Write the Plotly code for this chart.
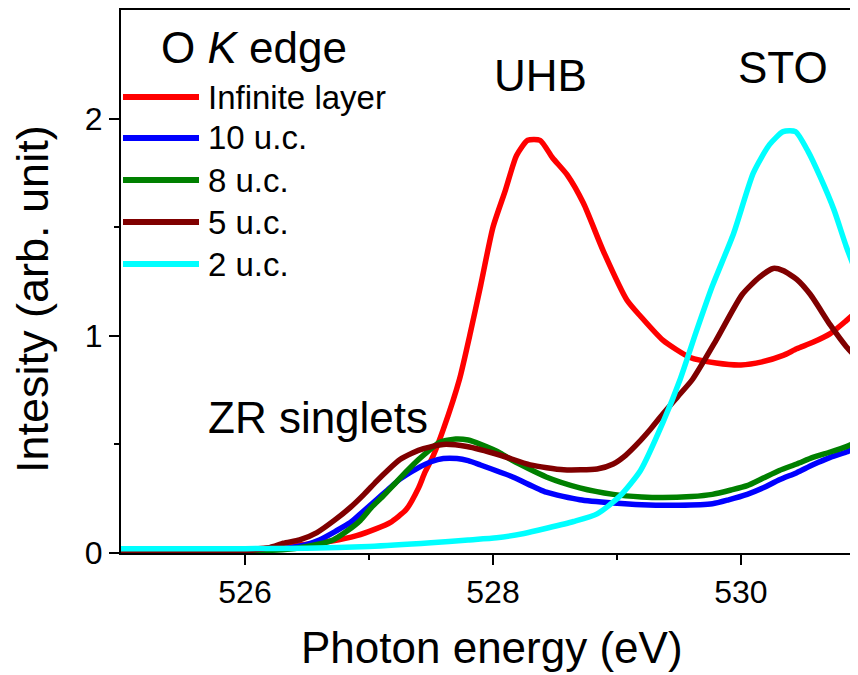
import plotly.graph_objects as go

# ---------------- data ----------------
series_names = ["Infinite layer", "10 u.c.", "8 u.c.", "5 u.c.", "2 u.c."]
series_colors = ["#ff0000", "#0000ff", "#008000", "#800000", "#00ffff"]

e_inf = [525.0, 525.5, 526.0, 526.3, 526.5, 526.7, 526.9, 527.05, 527.17, 527.3, 527.4, 527.45,
         527.52, 527.6, 527.73, 527.82, 527.9, 528.0, 528.1, 528.19, 528.28, 528.38, 528.48,
         528.6, 528.73, 528.89, 529.08, 529.19, 529.37, 529.59, 529.8, 530.0, 530.17, 530.34,
         530.45, 530.58, 530.72, 530.85, 530.95]
i_inf = [0.01, 0.01, 0.015, 0.03, 0.04, 0.055, 0.08, 0.11, 0.14, 0.2, 0.3, 0.37,
         0.45, 0.57, 0.8, 1.02, 1.23, 1.50, 1.67, 1.83, 1.90, 1.90, 1.82,
         1.74, 1.61, 1.39, 1.165, 1.09, 0.98, 0.90, 0.875, 0.866, 0.88, 0.91,
         0.94, 0.97, 1.01, 1.07, 1.12]

e_10 = [525.0, 525.5, 526.0, 526.3, 526.5, 526.6, 526.73, 526.85, 526.95, 527.06, 527.15, 527.25,
        527.39, 527.5, 527.6, 527.71, 527.8, 527.9, 528.16, 528.43, 528.7, 528.97, 529.2, 529.5,
        529.77, 529.9, 530.05, 530.18, 530.31, 530.45, 530.58, 530.72, 530.85, 530.95]
i_10 = [0.01, 0.01, 0.01, 0.02, 0.04, 0.06, 0.10, 0.14, 0.19, 0.245, 0.29, 0.34,
        0.39, 0.42, 0.435, 0.435, 0.425, 0.405, 0.35, 0.28, 0.245, 0.23, 0.222, 0.22,
        0.227, 0.245, 0.27, 0.30, 0.337, 0.37, 0.406, 0.44, 0.465, 0.49]

e_8 = [525.0, 525.5, 526.0, 526.3, 526.5, 526.71, 526.82, 526.93, 527.02, 527.11, 527.21, 527.31,
       527.4, 527.49, 527.57, 527.7, 527.8, 527.9, 528.06, 528.16, 528.43, 528.7, 528.97, 529.2,
       529.37, 529.6, 529.77, 529.92, 530.05, 530.18, 530.31, 530.45, 530.58, 530.72, 530.85, 530.95]
i_8 = [0.01, 0.01, 0.01, 0.015, 0.03, 0.06, 0.10, 0.15, 0.21, 0.26, 0.32, 0.38,
       0.43, 0.475, 0.51, 0.525, 0.52, 0.50, 0.46, 0.425, 0.35, 0.30, 0.27, 0.258,
       0.255, 0.26, 0.27, 0.29, 0.31, 0.345, 0.38, 0.41, 0.44, 0.465, 0.49, 0.515]

e_5 = [525.0, 525.5, 526.0, 526.2, 526.31, 526.44, 526.58, 526.72, 526.85, 526.96, 527.06, 527.15,
       527.25, 527.35, 527.44, 527.6, 527.79, 528.06, 528.3, 528.57, 528.84, 528.97, 529.07, 529.16,
       529.27, 529.37, 529.49, 529.61, 529.8, 530.01, 530.15, 530.26, 530.34, 530.45, 530.56, 530.72,
       530.85, 530.95]
i_5 = [0.01, 0.01, 0.01, 0.025, 0.045, 0.06, 0.094, 0.15, 0.21, 0.27, 0.33, 0.38,
       0.43, 0.46, 0.48, 0.50, 0.49, 0.45, 0.406, 0.383, 0.387, 0.41, 0.45, 0.50,
       0.57, 0.64, 0.72, 0.80, 0.98, 1.19, 1.27, 1.31, 1.30, 1.26, 1.19, 1.05,
       0.95, 0.89]

e_2 = [525.0, 525.5, 526.0, 526.5, 527.0, 527.5, 527.8, 528.03, 528.25, 528.44, 528.65, 528.84,
       529.02, 529.19, 529.37, 529.51, 529.64, 529.77, 529.94, 530.1, 530.23, 530.34, 530.44,
       530.54, 530.64, 530.75, 530.85, 530.95]
i_2 = [0.02, 0.02, 0.02, 0.022, 0.03, 0.047, 0.06, 0.07, 0.09, 0.115, 0.145, 0.18,
       0.26, 0.38, 0.60, 0.80, 1.02, 1.23, 1.47, 1.75, 1.88, 1.94, 1.94,
       1.85, 1.73, 1.58, 1.41, 1.26]

x_range = [525.0, 530.944]
y_range = [0.0, 2.5]
x_tickvals = [526, 528, 530]
x_minor = [527, 529, 531]
y_tickvals = [0, 1, 2]
y_minor = [0.5, 1.5]

annotations_text = ["UHB", "STO", "ZR singlets"]

# ---------------- figure ----------------
# page body has an 8px margin; figure is sized so it fits the 858x675 window
OFF = 8
W, H = 858 - OFF, 675 - OFF
# plot area in window pixels: x 121..858, y 10..553
PL, PR, PT, PB = 121, 858, 10, 553
L, R, T, B = PL - OFF, (858 - PR), PT - OFF, (675 - PB)
FONT = "Liberation Sans, Arial, sans-serif"


def px2paper(px, py):
    """window pixel -> paper coords"""
    return (px - PL) / (PR - PL), (PB - py) / (PB - PT)


fig = go.Figure()
series_x = [e_inf, e_10, e_8, e_5, e_2]
series_y = [i_inf, i_10, i_8, i_5, i_2]
for name, col, xs, ys in zip(series_names, series_colors, series_x, series_y):
    fig.add_trace(go.Scatter(x=xs, y=ys, mode="lines", name=name,
                             line=dict(color=col, width=5.5, shape="spline", smoothing=0.6),
                             showlegend=False, cliponaxis=True))

shapes = []
annots = []
# manual legend
leg_y = [97, 138, 180, 222, 264]
for name, col, ly in zip(series_names, series_colors, leg_y):
    x0, y0 = px2paper(123, ly)
    x1, _ = px2paper(199, ly)
    shapes.append(dict(type="line", xref="paper", yref="paper", x0=x0, x1=x1, y0=y0, y1=y0,
                       line=dict(color=col, width=6)))
    tx, ty = px2paper(206, ly)
    annots.append(dict(text=name, xref="paper", yref="paper", x=tx, y=ty, xanchor="left",
                       yanchor="middle", showarrow=False, font=dict(size=33, color="black", family=FONT)))

tx, ty = px2paper(254, 47)
annots.append(dict(text="O <i>K</i> edge", xref="paper", yref="paper", x=tx, y=ty,
                   xanchor="center", yanchor="middle", showarrow=False,
                   font=dict(size=44, color="black", family=FONT)))
for txt, (px, py) in zip(annotations_text, [(540, 75), (783, 68), (318, 417)]):
    tx, ty = px2paper(px, py)
    annots.append(dict(text=txt, xref="paper", yref="paper", x=tx, y=ty, xanchor="center",
                       yanchor="middle", showarrow=False, font=dict(size=44, color="black", family=FONT)))

# axis titles as annotations
tx, ty = px2paper(492, 648)
annots.append(dict(text="Photon energy (eV)", xref="paper", yref="paper", x=tx, y=ty,
                   xanchor="center", yanchor="middle", showarrow=False,
                   font=dict(size=44, color="black", family=FONT)))
tx, ty = px2paper(32, 299)
annots.append(dict(text="Intesity (arb. unit)", xref="paper", yref="paper", x=tx, y=ty,
                   xanchor="center", yanchor="middle", textangle=-90, showarrow=False,
                   font=dict(size=45, color="black", family=FONT)))

fig.update_layout(
    width=W, height=H,
    margin=dict(l=L, r=R, t=T, b=B, pad=0),
    paper_bgcolor="white", plot_bgcolor="white",
    font=dict(family=FONT, color="black"),
    shapes=shapes, annotations=annots,
    showlegend=False,
)
fig.update_xaxes(range=x_range, tickvals=x_tickvals, ticks="outside", ticklen=10, tickwidth=2,
                 tickcolor="black", showline=True, linecolor="black", linewidth=2, mirror=True,
                 showgrid=False, zeroline=False, tickfont=dict(size=32, family=FONT),
                 minor=dict(tickvals=x_minor, ticks="outside", ticklen=5, tickwidth=2,
                            tickcolor="black"))
fig.update_yaxes(range=y_range, tickvals=y_tickvals, ticks="outside", ticklen=10, tickwidth=2,
                 tickcolor="black", showline=True, linecolor="black", linewidth=2, mirror=False,
                 showgrid=False, zeroline=False, tickfont=dict(size=32, family=FONT),
                 minor=dict(tickvals=y_minor, ticks="outside", ticklen=5, tickwidth=2,
                            tickcolor="black"))

fig.write_html("out.html")
